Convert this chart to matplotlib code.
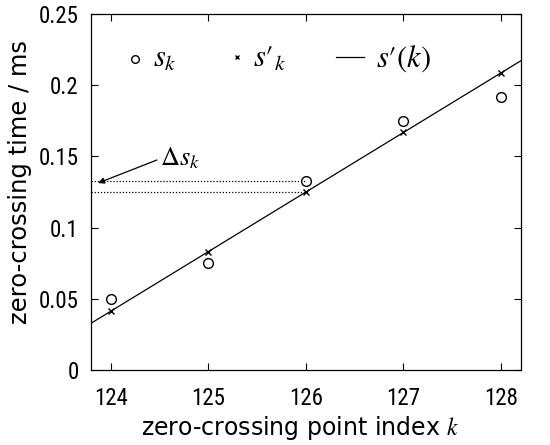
import matplotlib
matplotlib.use("Agg")
import matplotlib.pyplot as plt
import numpy as np

plt.rcParams['mathtext.fontset'] = 'stix'

k = [124, 125, 126, 127, 128]
s_k = [0.050, 0.075, 0.133, 0.175, 0.192]
fit_center = 126
fit_intercept = 0.125
fit_slope = 0.0418
s_prime = [fit_intercept + fit_slope * (x - fit_center) for x in k]

xlim = (123.795, 128.205)
ylim = (0, 0.25)
xticks = [124, 125, 126, 127, 128]
yticks = [0, 0.05, 0.1, 0.15, 0.2, 0.25]
ytick_labels = ['0', '0.05', '0.1', '0.15', '0.2', '0.25']

tick_family = ['Roboto Condensed', 'Liberation Sans']
tick_size = 16.5

fig = plt.figure(figsize=(5.5, 4.45), dpi=100)
ax = fig.add_axes([0.1655, 0.1685, 0.7815, 0.8])

line_x = np.array(xlim)
line_y = fit_intercept + fit_slope * (line_x - fit_center)
ax.plot(line_x, line_y, color='black', lw=0.9)
ax.plot(k, s_k, 'o', mfc='none', mec='black', ms=7, mew=1.0)
ax.plot(k, s_prime, 'x', color='black', ms=5, mew=1.0)

# dotted guide lines for k=126
i = k.index(126)
ax.plot([xlim[0], k[i]], [s_k[i], s_k[i]], ls=(0, (1, 1.5)), color='black', lw=0.9)
ax.plot([xlim[0], k[i]], [s_prime[i], s_prime[i]], ls=(0, (1, 1.5)), color='black', lw=0.9)

ax.annotate('', xy=(123.867, 0.1313), xytext=(124.472, 0.1475),
            arrowprops=dict(arrowstyle='-|>', color='black', lw=0.9,
                            mutation_scale=9, shrinkA=0, shrinkB=0))
ax.text(124.50, 0.144, r'$\Delta s_k$', fontsize=19, va='baseline', ha='left')

# legend-like labels
ax.plot([124.246], [0.2185], 'o', mfc='none', mec='black', ms=5.5, mew=1.0)
ax.text(124.43, 0.213, r'$s_k$', fontsize=22, va='baseline', ha='left')
ax.plot([125.29], [0.2195], 'x', color='black', ms=3.5, mew=1.0)
ax.text(125.456, 0.213, r"$s\prime_k$", fontsize=22, va='baseline', ha='left')
ax.plot([126.31, 126.60], [0.2195, 0.2195], color='black', lw=0.9)
ax.text(126.72, 0.213, r"$s\prime(k)$", fontsize=22, va='baseline', ha='left')

ax.set_xlim(xlim)
ax.set_ylim(ylim)
ax.set_xticks(xticks)
ax.set_xticklabels([str(x) for x in xticks], family=tick_family, fontsize=tick_size)
ax.set_yticks(yticks)
ax.set_yticklabels(ytick_labels, family=tick_family, fontsize=tick_size)
ax.tick_params(direction='in', top=True, right=True, length=5, width=0.8)
ax.tick_params(axis='x', pad=12)
ax.tick_params(axis='y', pad=9)
for sp in ax.spines.values():
    sp.set_linewidth(0.9)

fig.text(300 / 550, 1 - 428 / 445, r'zero-crossing point index $k$', fontsize=17,
         ha='center', va='center')
fig.text(20 / 550, 1 - 182 / 445, 'zero-crossing time / ms', fontsize=17.5,
         ha='center', va='center', rotation=90)

fig.savefig('out.png', dpi=100)
